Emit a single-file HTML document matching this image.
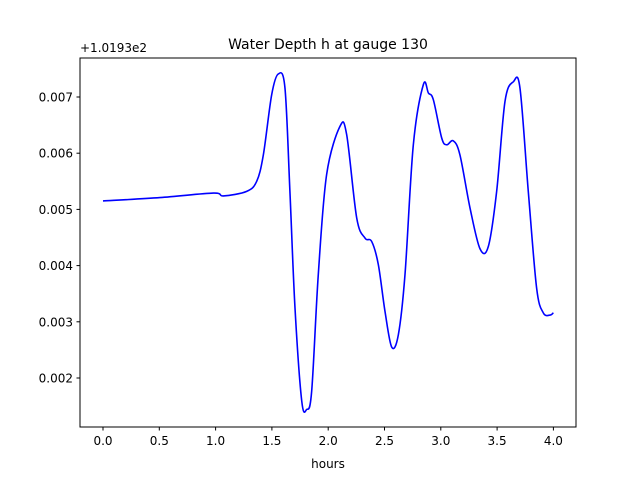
<!DOCTYPE html>
<html><head><meta charset="utf-8"><style>
body{margin:0;background:#fff;}
svg text{font-family:"DejaVu Sans","Liberation Sans",sans-serif;}
</style></head><body>
<svg id="chart" width="640" height="480">
<rect x="0" y="0" width="640" height="480" fill="#fff"/>
<text x="328" y="49" text-anchor="middle" font-size="14">Water Depth h at gauge 130</text>
<text x="80" y="52" font-size="12">+1.0193e2</text>
<text x="328" y="468" text-anchor="middle" font-size="12">hours</text>
<g id="xticks"></g>
<g id="yticks"></g>
<path id="line" fill="none" stroke="#0000ff" stroke-width="1.6"/>
<rect x="80" y="58" width="496" height="369" fill="none" stroke="#000" stroke-width="1"/>
</svg>
<script>
const hours=[0,0.506,0.98,1.07,1.276,1.365,1.424,1.498,1.557,1.616,1.66,1.705,1.765,1.809,1.853,1.912,1.986,2.105,2.164,2.253,2.327,2.386,2.445,2.504,2.564,2.623,2.682,2.756,2.845,2.89,2.934,3.008,3.052,3.111,3.17,3.26,3.348,3.422,3.496,3.57,3.644,3.703,3.777,3.851,3.91,3.97,4.0];
const depth=[5.15,5.21,5.29,5.24,5.32,5.50,5.97,7.04,7.41,7.16,5.32,3.25,1.59,1.44,1.76,3.84,5.62,6.48,6.33,4.85,4.49,4.43,4.02,3.19,2.55,2.77,3.84,6.15,7.22,7.07,6.95,6.27,6.15,6.22,5.97,5.02,4.30,4.34,5.32,6.92,7.27,7.16,5.32,3.60,3.16,3.12,3.16];
const xTickVals=[0,0.5,1,1.5,2,2.5,3,3.5,4];
const xTickLabels=["0.0","0.5","1.0","1.5","2.0","2.5","3.0","3.5","4.0"];
const yTickVals=[2,3,4,5,6,7];
const yTickLabels=["0.002","0.003","0.004","0.005","0.006","0.007"];
const NS="http://www.w3.org/2000/svg";
function xs(h){return 103+h*112.6;}
function ys(v){return 97+(7-v)*56.2;}
function mk(tag,attrs,parent){const e=document.createElementNS(NS,tag);for(const k in attrs)e.setAttribute(k,attrs[k]);parent.appendChild(e);return e;}
const xg=document.getElementById('xticks');
xTickVals.forEach((t,i)=>{
  const l=mk('line',{x1:xs(t),x2:xs(t),y1:427,y2:430.5,stroke:'#000'},xg);
  
  
  const tx=mk('text',{x:xs(t),y:445,'text-anchor':'middle','font-size':12},xg);
  tx.textContent=xTickLabels[i];
  
  
});
const yg=document.getElementById('yticks');
yTickVals.forEach((t,i)=>{
  const l=mk('line',{x1:76.5,x2:80,y1:ys(t),y2:ys(t),stroke:'#000'},yg);
  
  
  const tx=mk('text',{x:73,y:ys(t)+4.5,'text-anchor':'end','font-size':12},yg);
  tx.textContent=yTickLabels[i];
  
  
});
const P=hours.map((h,i)=>[xs(h),ys(depth[i])]);
let d='M'+P[0][0]+','+P[0][1];
for(let i=0;i<P.length-1;i++){
  const p0=P[Math.max(i-1,0)],p1=P[i],p2=P[i+1],p3=P[Math.min(i+2,P.length-1)];
  const c1=[p1[0]+(p2[0]-p0[0])/6,p1[1]+(p2[1]-p0[1])/6];
  const c2=[p2[0]-(p3[0]-p1[0])/6,p2[1]-(p3[1]-p1[1])/6];
  d+=' C'+c1[0]+','+c1[1]+' '+c2[0]+','+c2[1]+' '+p2[0]+','+p2[1];
}
document.getElementById('line').setAttribute('d',d);
</script>
</body></html>
